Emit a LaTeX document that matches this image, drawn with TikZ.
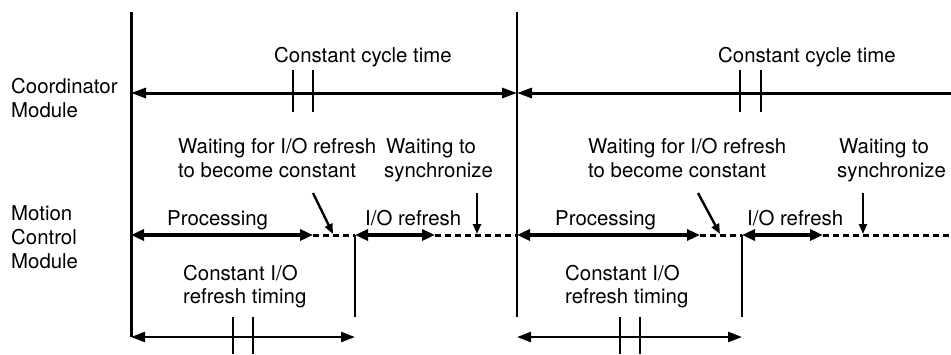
\documentclass[tikz,border=0pt]{standalone}
\usepackage{fontspec}
\setmainfont{TeX Gyre Heros}
\usetikzlibrary{arrows.meta}
\begin{document}
\begin{tikzpicture}[x=1pt,y=-1pt,
  lbl/.style={anchor=base west,inner sep=0pt,font=\fontsize{20.4}{24}\selectfont},
  cyc/.style={line width=3pt,{Triangle[length=15pt,width=10pt]}-{Triangle[length=15pt,width=10pt]}},
  cycl/.style={line width=3pt,{Triangle[length=15pt,width=10pt]}-},
  phase/.style={line width=3.8pt,{Triangle[length=13pt,width=11pt]}-{Triangle[length=13pt,width=11pt]}},
  waitline/.style={line width=3pt,dash pattern=on 6pt off 4pt},
  iot/.style={line width=2.6pt,{Triangle[length=14pt,width=10pt]}-{Triangle[length=14pt,width=10pt]}},
  pointer/.style={line width=2.4pt,-{Triangle[length=10pt,width=8pt]}},
  tick/.style={line width=1.7pt},
  bound/.style={line width=1.8pt}]
\useasboundingbox (0,0) rectangle (951,354);

% coordinates
\coordinate (L0) at (131,12);   \coordinate (L1) at (131,337);
\coordinate (M0) at (517,12);   \coordinate (M1) at (517,317);
\coordinate (T1) at (131,93);   \coordinate (T2) at (517,93);  \coordinate (T3) at (951,93);
\coordinate (P0) at (131,235);  \coordinate (P1) at (313,235); \coordinate (P2) at (355,235);
\coordinate (P3) at (435,235);  \coordinate (P4) at (517,235);
\coordinate (Q1) at (700,235);  \coordinate (Q2) at (742,235); \coordinate (Q3) at (823,235);
\coordinate (Q4) at (951,235);
\coordinate (V1) at (355,317);  \coordinate (V2) at (742,317);
\coordinate (B0) at (131,337);  \coordinate (B1) at (355,337);
\coordinate (B2) at (517,337);  \coordinate (B3) at (742,337);

% vertical boundaries
\draw[line width=3pt] (L0) -- (L1);
\draw[bound] (M0) -- (M1);
\draw[bound] (P2) -- (V1);
\draw[bound] (Q2) -- (V2);

% top (coordinator) arrows
\draw[cyc] (T1) -- (T2);
\draw[cycl] (T2) -- (T3);
\foreach \x in {293,313,740,761} \draw[tick] (\x,70) -- (\x,112);

% motion row
\draw[phase] (P0) -- (P1);
\draw[waitline] (P1) -- (P2);
\draw[phase] (P2) -- (P3);
\draw[waitline] (P3) -- (P4);
\draw[phase] (P4) -- (Q1);
\draw[waitline] (Q1) -- (Q2);
\draw[phase] (Q2) -- (Q3);
\draw[waitline] (Q3) -- (Q4);

% pointers
\coordinate (w1a) at (313,193); \coordinate (w1b) at (333,234);
\coordinate (s1a) at (477,193); \coordinate (s1b) at (477,234);
\coordinate (w2a) at (698,193); \coordinate (w2b) at (720,234);
\coordinate (s2a) at (863,193); \coordinate (s2b) at (863,234);
\draw[pointer] (w1a) -- (w1b);
\draw[pointer] (s1a) -- (s1b);
\draw[pointer] (w2a) -- (w2b);
\draw[pointer] (s2a) -- (s2b);

% bottom arrows
\draw[iot] (B0) -- (B1);
\draw[iot] (B2) -- (B3);
\foreach \x in {233,253,620,640} \draw[tick] (\x,317) -- (\x,354);

% labels
\node[lbl] (cm1) at (11,93) {Coordinator};
\node[lbl] (cm2) at (11,117) {Module};
\node[lbl] (mc1) at (11,220) {Motion};
\node[lbl] (mc2) at (11,244) {Control};
\node[lbl] (mc3) at (11,268) {Module};

\node[lbl] (ct1) at (274,62) {Constant cycle time};
\node[lbl] (ct2) at (718,62) {Constant cycle time};

\node[lbl] (wa1) at (178,153) {Waiting for I/O refresh};
\node[lbl] (wb1) at (178,177) {to become constant};
\node[lbl] (sa1) at (386,153) {Waiting to};
\node[lbl] (sb1) at (384,177) {synchronize};
\node[lbl] (wa2) at (588,153) {Waiting for I/O refresh};
\node[lbl] (wb2) at (588,177) {to become constant};
\node[lbl] (sa2) at (839,153) {Waiting to};
\node[lbl] (sb2) at (837,177) {synchronize};

\node[lbl] (pr1) at (167,225) {Processing};
\node[lbl] (io1) at (365,225) {I/O refresh};
\node[lbl] (pr2) at (555,225) {Processing};
\node[lbl] (io2) at (747,225) {I/O refresh};

\node[lbl] (ci1) at (183,280) {Constant I/O};
\node[lbl] (rt1) at (183,303) {refresh timing};
\node[lbl] (ci2) at (565,280) {Constant I/O};
\node[lbl] (rt2) at (565,303) {refresh timing};
\end{tikzpicture}
\end{document}
